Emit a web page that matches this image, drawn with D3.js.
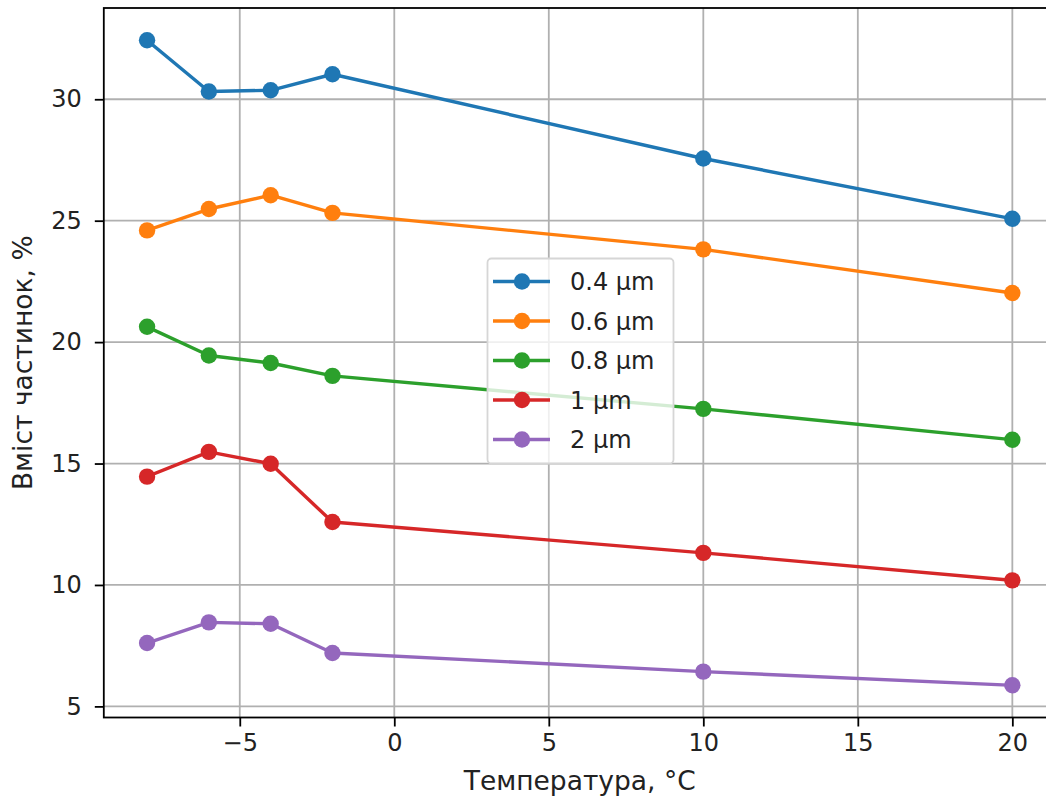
<!DOCTYPE html>
<html>
<head>
<meta charset="utf-8">
<script src="https://cdn.jsdelivr.net/npm/d3@7"></script>
<style>
  html, body { margin: 0; padding: 0; background: #fff; }
  svg { display: block; font-family: "DejaVu Sans", sans-serif; }
</style>
</head>
<body>
<svg id="chart" width="1046" height="801"></svg>
<script>
const temperatures = [-8, -6, -4, -2, 10, 20];
const seriesNames = ["0.4 µm", "0.6 µm", "0.8 µm", "1 µm", "2 µm"];
const s04 = [32.43, 30.32, 30.37, 31.03, 27.56, 25.08];
const s06 = [24.60, 25.48, 26.05, 25.32, 23.82, 22.02];
const s08 = [20.63, 19.45, 19.14, 18.61, 17.25, 15.98];
const s1  = [14.46, 15.48, 14.99, 12.59, 11.32, 10.19];
const s2  = [7.61, 8.46, 8.40, 7.20, 6.43, 5.87];
const seriesValues = [s04, s06, s08, s1, s2];
const colors = ["#1f77b4", "#ff7f0e", "#2ca02c", "#d62728", "#9467bd"];
const xTicks = [-5, 0, 5, 10, 15, 20];
const yTicks = [5, 10, 15, 20, 25, 30];

(function () {
const svg = d3.select("#chart");
const pLeft = 103.8, pRight = 1055.6, pTop = 8, pBottom = 717.5;
const fs = 24, fsLabel = 26.5;

// matplotlib-style 5% margins
const xmin = d3.min(temperatures), xmax = d3.max(temperatures);
const xm = (xmax - xmin) * 0.05;
const allY = seriesValues.flat();
const ymin = d3.min(allY), ymax = d3.max(allY);
const ym = (ymax - ymin) * 0.05;

const x = d3.scaleLinear().domain([xmin - xm, xmax + xm]).range([pLeft, pRight]);
const y = d3.scaleLinear().domain([ymin - ym, ymax + ym]).range([pBottom, pTop]);

// grid
const grid = svg.append("g");
grid.selectAll("line.gx").data(xTicks).join("line")
  .attr("x1", d => x(d)).attr("x2", d => x(d))
  .attr("y1", pTop).attr("y2", pBottom)
  .attr("stroke", "#b0b0b0").attr("stroke-width", 1.8);
grid.selectAll("line.gy").data(yTicks).join("line")
  .attr("x1", pLeft).attr("x2", pRight)
  .attr("y1", d => y(d)).attr("y2", d => y(d))
  .attr("stroke", "#b0b0b0").attr("stroke-width", 1.8);

// series
const line = d3.line().x(d => x(d[0])).y(d => y(d[1]));
seriesValues.forEach((vals, i) => {
  const pts = temperatures.map((t, j) => [t, vals[j]]);
  const g = svg.append("g");
  g.append("path").datum(pts).attr("d", line)
    .attr("fill", "none").attr("stroke", colors[i]).attr("stroke-width", 3.4)
    .attr("stroke-linejoin", "round").attr("stroke-linecap", "square");
  g.selectAll("circle").data(pts).join("circle")
    .attr("cx", d => x(d[0])).attr("cy", d => y(d[1])).attr("r", 8.2)
    .attr("fill", colors[i]);
});

// axes
const xAxis = d3.axisBottom(x).tickValues(xTicks).tickSize(9).tickPadding(7)
  .tickFormat(d3.format("d"));
const gx = svg.append("g").attr("transform", `translate(0,${pBottom})`).call(xAxis);
gx.select(".domain").remove();
gx.selectAll(".tick line").attr("stroke", "#000").attr("stroke-width", 1.8);
gx.selectAll(".tick text").attr("font-size", fs).attr("fill", "#222")
  .attr("font-family", "DejaVu Sans");

const yAxis = d3.axisLeft(y).tickValues(yTicks).tickSize(9).tickPadding(13)
  .tickFormat(d3.format("d"));
const gy = svg.append("g").attr("transform", `translate(${pLeft},0)`).call(yAxis);
gy.select(".domain").remove();
gy.selectAll(".tick line").attr("stroke", "#000").attr("stroke-width", 1.8);
gy.selectAll(".tick text").attr("font-size", fs).attr("fill", "#222")
  .attr("font-family", "DejaVu Sans");

// spines
svg.append("rect").attr("x", pLeft).attr("y", pTop)
  .attr("width", pRight - pLeft).attr("height", pBottom - pTop)
  .attr("fill", "none").attr("stroke", "#000").attr("stroke-width", 1.8);

// axis labels
svg.append("text").attr("x", (pLeft + pRight) / 2).attr("y", 790)
  .attr("text-anchor", "middle").attr("font-size", fsLabel).attr("fill", "#222")
  .text("Температура, °C");
svg.append("text")
  .attr("transform", `translate(31.5,${(pTop + pBottom) / 2}) rotate(-90)`)
  .attr("text-anchor", "middle").attr("font-size", fsLabel).attr("fill", "#222")
  .text("Вміст частинок, %");

// legend
const lg = svg.append("g");
const lx = 487.5, ly = 258.5, lw = 186, lh = 205;
lg.append("rect").attr("x", lx).attr("y", ly).attr("width", lw).attr("height", lh)
  .attr("rx", 4).attr("fill", "#fff").attr("fill-opacity", 0.8)
  .attr("stroke", "#d6d6d6").attr("stroke-width", 1.8);
const rowY = d3.scaleLinear().domain([0, seriesNames.length - 1]).range([281.5, 439.5]);
seriesNames.forEach((name, i) => {
  const yy = rowY(i);
  lg.append("line").attr("x1", 493).attr("x2", 550).attr("y1", yy).attr("y2", yy)
    .attr("stroke", colors[i]).attr("stroke-width", 3.4);
  lg.append("circle").attr("cx", 522).attr("cy", yy).attr("r", 8.2).attr("fill", colors[i]);
  lg.append("text").attr("x", 570).attr("y", yy).attr("dy", "0.36em")
    .attr("font-size", fs).attr("fill", "#222").text(name);
});
})();
</script>
</body>
</html>
